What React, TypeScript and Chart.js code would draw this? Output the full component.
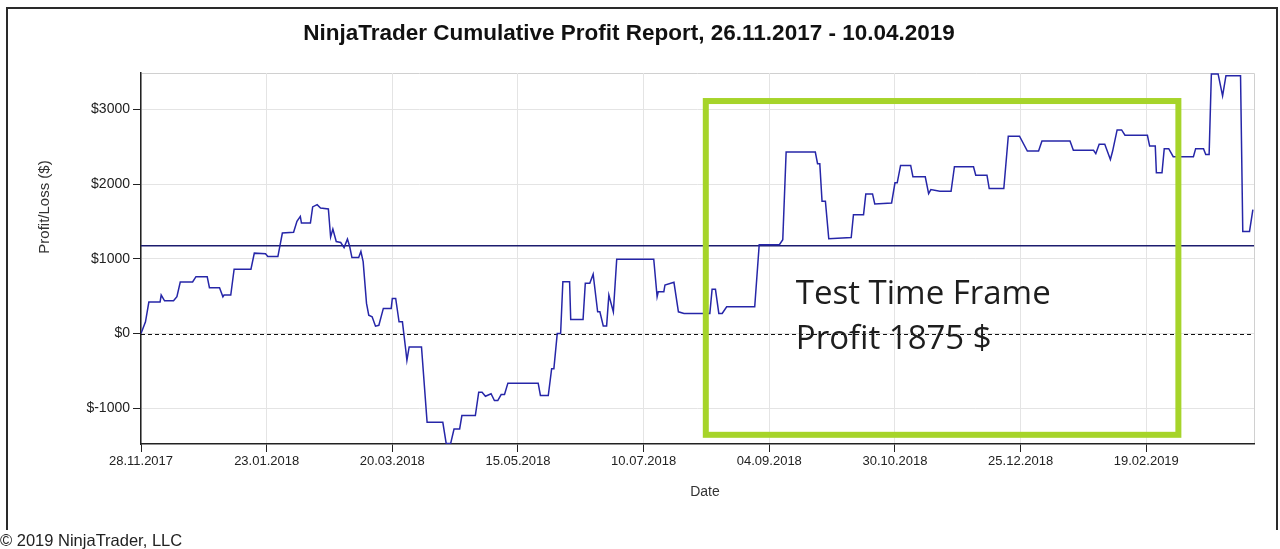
import React, { useEffect, useRef } from "react";
import { Chart, registerables } from "chart.js";

Chart.register(...registerables);

// Day 0 = 28.11.2017
const START_UTC = Date.UTC(2017, 10, 28);

const dayOffsets = [
  0, 2, 3.5, 8.5, 9, 10.5, 14.5, 16, 17.5, 23, 24.5, 29.5, 30.5, 35, 36.5, 37, 40, 41.5, 49, 50.5,
  55.5, 56.5, 61, 63, 68, 69.5, 71, 71.5, 75.5, 76.5, 78.5, 80, 83.5, 84.5, 85.5, 87, 89, 90.5, 92, 93,
  94, 97, 98, 99, 100.5, 101.5, 103, 104.5, 106, 108, 111.5, 112, 113.5, 115, 116.5, 118, 118.5, 119.5, 125, 127.5,
  134.5, 136, 138, 139.5, 142, 143, 149, 150.5, 152, 153.5, 156, 157.5, 159, 160.5, 162, 163.5, 177, 178, 181.5, 183,
  184, 185.5, 187, 188, 191, 191.5, 197, 198, 200, 201.5, 203.5, 204.5, 206, 207.5, 208.5, 210.5, 212, 228.5, 230, 230.5,
  233, 233.5, 237.5, 239.5, 242, 253.5, 254.5, 256, 257.5, 259, 261, 273.5, 275.5, 284.5, 286, 287.5, 300.5, 301.5, 302.5, 303.5,
  305, 306.5, 316.5, 317.5, 322, 323, 326, 327, 334.5, 336, 337, 338.5, 343, 344, 349.5, 351, 352, 356, 361, 362.5,
  371, 372, 377, 378, 384.5, 386.5, 391.5, 395, 400, 401.5, 414, 415.5, 424.5, 425.5, 427, 429.5, 432, 433, 435, 437,
  438.5, 448.5, 449.5, 452, 452.5, 455, 456, 458, 460, 469, 470, 473.5, 474.5, 476, 477, 480, 482, 483.5, 490, 491,
  494, 495.5,
];

const profit = [
  0, 156, 421, 421, 515, 438, 438, 492, 689, 689, 761, 761, 613, 613, 492, 515, 515, 860, 860, 1075,
  1066, 1030, 1030, 1344, 1355, 1500, 1567, 1478, 1478, 1693, 1724, 1680, 1667, 1290, 1398, 1231, 1218, 1150, 1263, 1164,
  1016, 1016, 1097, 962, 403, 246, 225, 98, 110, 336, 336, 470, 470, 156, 156, -224, -359, -180, -180, -1188,
  -1188, -1470, -1470, -1277, -1277, -1098, -1098, -785, -785, -839, -806, -896, -896, -816, -816, -664, -664, -829, -829, -470,
  -470, 0, 0, 693, 693, 188, 188, 672, 672, 793, 290, 290, 102, 102, 515, 290, 995, 995, 492, 559,
  559, 649, 685, 290, 269, 269, 591, 591, 269, 269, 358, 358, 1187, 1187, 1254, 2427, 2427, 2271, 2271, 1769,
  1769, 1267, 1285, 1590, 1590, 1868, 1868, 1734, 1747, 2016, 2016, 2249, 2249, 2097, 2097, 1872, 1926, 1903, 1903, 2231,
  2231, 2118, 2118, 1939, 1939, 2640, 2640, 2441, 2441, 2575, 2575, 2450, 2450, 2406, 2531, 2531, 2329, 2441, 2723, 2723,
  2652, 2652, 2508, 2508, 2150, 2150, 2473, 2473, 2365, 2365, 2473, 2473, 2396, 2396, 3472, 3472, 3180, 3449, 3449, 1366,
  1366, 1657,
];

const xTickDays = [0, 56, 112, 168, 224, 280, 336, 392, 448];
const yTickValues = [-1000, 0, 1000, 2000, 3000];
const xRange = [0, 496];
const yRange = [-1478, 3485];
const averageProfit = 1175;

// Highlight box (data coordinates: days / $)
const testFrameDays = [251.7, 462.3];
const testFrameValues = [3110, -1355];
const testFrameLines = ["Test Time Frame", "Profit 1875 $"];

const titleText = "NinjaTrader Cumulative Profit Report, 26.11.2017 - 10.04.2019";
const yTitle = "Profit/Loss ($)";
const xTitle = "Date";
const footerText = "© 2019 NinjaTrader, LLC";

function dayLabel(d: number): string {
  const dt = new Date(START_UTC + d * 86400000);
  const dd = String(dt.getUTCDate()).padStart(2, "0");
  const mm = String(dt.getUTCMonth() + 1).padStart(2, "0");
  return `${dd}.${mm}.${dt.getUTCFullYear()}`;
}

const AX_FONT = "'Liberation Sans', Arial, sans-serif";

const decorPlugin = {
  id: "decor",
  beforeDraw(chart: any) {
    const ctx = chart.ctx;
    const { left, right, top, bottom } = chart.chartArea;
    ctx.save();
    ctx.fillStyle = "#ffffff";
    ctx.fillRect(0, 0, chart.width, chart.height);
    // outer frame
    ctx.strokeStyle = "#2a2a2a";
    ctx.lineWidth = 2;
    ctx.beginPath();
    ctx.moveTo(7, 530);
    ctx.lineTo(7, 8);
    ctx.lineTo(1277, 8);
    ctx.lineTo(1277, 530);
    ctx.stroke();
    // light top/right border of plot area
    ctx.strokeStyle = "#d0d0d0";
    ctx.lineWidth = 1;
    ctx.beginPath();
    ctx.moveTo(left, top + 0.5);
    ctx.lineTo(right + 0.5, top + 0.5);
    ctx.lineTo(right + 0.5, bottom);
    ctx.stroke();
    ctx.restore();
  },
  beforeDatasetsDraw(chart: any) {
    const ctx = chart.ctx;
    const { left, right } = chart.chartArea;
    const y = chart.scales.y;
    ctx.save();
    // zero dashed line
    const y0 = Math.round(y.getPixelForValue(0)) + 0.5;
    ctx.strokeStyle = "#111111";
    ctx.lineWidth = 1;
    ctx.setLineDash([4, 3]);
    ctx.beginPath();
    ctx.moveTo(left, y0);
    ctx.lineTo(right, y0);
    ctx.stroke();
    ctx.setLineDash([]);
    // average line
    const ya = y.getPixelForValue(averageProfit);
    ctx.strokeStyle = "#1c1c6e";
    ctx.lineWidth = 1.5;
    ctx.beginPath();
    ctx.moveTo(left, ya);
    ctx.lineTo(right, ya);
    ctx.stroke();
    ctx.restore();
  },
  afterDraw(chart: any) {
    const ctx = chart.ctx;
    const xs = chart.scales.x;
    const ys = chart.scales.y;
    ctx.save();
    // title
    ctx.fillStyle = "#111111";
    ctx.font = `bold 22.5px ${AX_FONT}`;
    ctx.textAlign = "center";
    ctx.textBaseline = "middle";
    ctx.fillText(titleText, 629, 34);
    // axis titles
    ctx.fillStyle = "#333333";
    ctx.font = `14px ${AX_FONT}`;
    ctx.fillText(xTitle, 705, 492);
    ctx.save();
    ctx.translate(45, 207);
    ctx.rotate(-Math.PI / 2);
    ctx.font = `15px ${AX_FONT}`;
    ctx.fillText(yTitle, 0, 0);
    ctx.restore();
    // footer
    ctx.fillStyle = "#222222";
    ctx.font = `16.5px ${AX_FONT}`;
    ctx.textAlign = "left";
    ctx.fillText(footerText, 0, 541);
    // highlight box
    const bx1 = xs.getPixelForValue(testFrameDays[0]);
    const bx2 = xs.getPixelForValue(testFrameDays[1]);
    const by1 = ys.getPixelForValue(testFrameValues[0]);
    const by2 = ys.getPixelForValue(testFrameValues[1]);
    ctx.strokeStyle = "#a6d42a";
    ctx.lineWidth = 6;
    ctx.strokeRect(bx1, by1, bx2 - bx1, by2 - by1);
    // annotation text
    ctx.fillStyle = "#1e1e1e";
    ctx.font = `33px 'Open Sans', sans-serif`;
    ctx.textBaseline = "middle";
    ctx.fillText(testFrameLines[0], bx1 + 90, 295);
    ctx.fillText(testFrameLines[1], bx1 + 90, 340);
    ctx.restore();
  },
};

export default function App() {
  const canvasRef = useRef<HTMLCanvasElement | null>(null);

  useEffect(() => {
    document.body.style.margin = "0";
    const canvas = canvasRef.current;
    if (!canvas) return;
    const chart = new Chart(canvas, {
      type: "line",
      data: {
        datasets: [
          {
            data: dayOffsets.map((d, i) => ({ x: d, y: profit[i] })),
            borderColor: "#2626a8",
            borderWidth: 1.5,
            pointRadius: 0,
            tension: 0,
            fill: false,
          },
        ],
      },
      options: {
        animation: false,
        responsive: false,
        maintainAspectRatio: false,
        devicePixelRatio: 1,
        layout: { padding: { left: 0, right: 26, top: 73, bottom: 0 } },
        plugins: {
          legend: { display: false },
          tooltip: { enabled: false },
          title: { display: false },
        },
        scales: {
          x: {
            type: "linear",
            min: xRange[0],
            max: xRange[1],
            afterBuildTicks: (s: any) => {
              s.ticks = xTickDays.map((v) => ({ value: v }));
            },
            afterFit: (s: any) => {
              s.height = 105;
            },
            ticks: {
              callback: (v: any) => dayLabel(Number(v)),
              color: "#222222",
              font: { family: AX_FONT, size: 13 },
              maxRotation: 0,
              autoSkip: false,
              padding: 2,
            },
            grid: { color: "#e4e4e4", tickColor: "#222222", tickLength: 8 },
            border: { color: "#222222", width: 1.5 },
          },
          y: {
            type: "linear",
            min: yRange[0],
            max: yRange[1],
            afterBuildTicks: (s: any) => {
              s.ticks = yTickValues.map((v) => ({ value: v }));
            },
            afterFit: (s: any) => {
              s.width = 141;
            },
            ticks: {
              callback: (v: any) => `$${v}`,
              color: "#222222",
              font: { family: AX_FONT, size: 14 },
              padding: 3,
            },
            grid: { color: "#e4e4e4", tickColor: "#222222", tickLength: 8 },
            border: { color: "#222222", width: 1.5 },
          },
        },
      },
      plugins: [decorPlugin],
    } as any);
    return () => chart.destroy();
  }, []);

  return (
    <div style={{ position: "absolute", left: 0, top: 0, width: 1280, height: 549, background: "#fff" }}>
      <canvas ref={canvasRef} width={1280} height={549} style={{ width: 1280, height: 549, display: "block" }} />
    </div>
  );
}
